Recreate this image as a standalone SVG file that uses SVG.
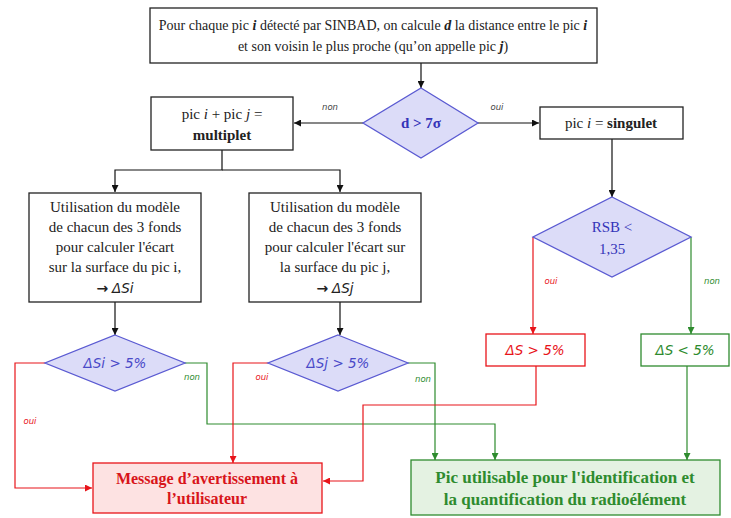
<svg xmlns="http://www.w3.org/2000/svg" width="731" height="518" viewBox="0 0 731 518">
<defs>
<marker id="ab" viewBox="0 0 10 10" refX="10" refY="5" markerWidth="7" markerHeight="7" orient="auto-start-reverse" markerUnits="userSpaceOnUse"><path d="M0,0 L10,5 L0,10 z" fill="#111"/></marker>
<marker id="ar" viewBox="0 0 10 10" refX="10" refY="5" markerWidth="7" markerHeight="7" orient="auto-start-reverse" markerUnits="userSpaceOnUse"><path d="M0,0 L10,5 L0,10 z" fill="#e8141a"/></marker>
<marker id="ag" viewBox="0 0 10 10" refX="10" refY="5" markerWidth="7" markerHeight="7" orient="auto-start-reverse" markerUnits="userSpaceOnUse"><path d="M0,0 L10,5 L0,10 z" fill="#2e8b2e"/></marker>
</defs>
<style>
.bx{fill:#fff;stroke:#222;stroke-width:1.3}
.dm{fill:#dcdcf8;stroke:#5a5ad2;stroke-width:1.3}
.t{font-family:"Liberation Serif",serif;font-size:15px;fill:#222;text-anchor:middle}
.tt{font-family:"Liberation Serif",serif;font-size:14px;fill:#222;text-anchor:middle}
.dt{font-family:"Liberation Serif",serif;font-size:15px;fill:#3434b8;text-anchor:middle}
.ds{font-family:"DejaVu Sans",sans-serif;font-style:italic;font-size:13.5px;fill:#4a4ac8;text-anchor:middle}
.lb{font-family:"DejaVu Sans",sans-serif;font-style:italic;font-size:8.5px;text-anchor:middle}
.ar{font-family:"DejaVu Sans",sans-serif;font-weight:bold;font-size:14px}
.k{stroke:#111;stroke-width:1.2;fill:none}
.r{stroke:#e8141a;stroke-width:1.2;fill:none}
.g{stroke:#2e8b2e;stroke-width:1.2;fill:none}
</style>
<g id="connectors">
<path class="k" d="M421,63 V88" marker-end="url(#ab)"/>
<path class="k" d="M363,123 H294" marker-end="url(#ab)"/>
<path class="k" d="M478,123 H539" marker-end="url(#ab)"/>
<path class="k" d="M612,139 V197" marker-end="url(#ab)"/>
<path class="k" d="M222,150 V170 H115 V192" marker-end="url(#ab)"/>
<path class="k" d="M222,170 H340 V192" marker-end="url(#ab)"/>
<path class="k" d="M115,302 V335" marker-end="url(#ab)"/>
<path class="k" d="M340,302 V335" marker-end="url(#ab)"/>
<path class="r" d="M533,237 V334" marker-end="url(#ar)"/>
<path class="g" d="M691,237 V334" marker-end="url(#ag)"/>
<path class="r" d="M45,363 H15 V488 H92" marker-end="url(#ar)"/>
<path class="g" d="M185,363 H207 V424 H495 V460" marker-end="url(#ag)"/>
<path class="r" d="M268,363 H233 V463" marker-end="url(#ar)"/>
<path class="g" d="M408,363 H435 V460" marker-end="url(#ag)"/>
<path class="r" d="M536,366 V405 H363 V481 H323" marker-end="url(#ar)"/>
<path class="g" d="M687,366 V460" marker-end="url(#ag)"/>
<text class="lb" x="330" y="110" fill="#444">non</text>
<text class="lb" x="497" y="110" fill="#444">oui</text>
<text class="lb" x="551" y="284" fill="#e8141a">oui</text>
<text class="lb" x="712" y="284" fill="#2e8b2e">non</text>
<text class="lb" x="30" y="424" fill="#e8141a">oui</text>
<text class="lb" x="192" y="380" fill="#2e8b2e">non</text>
<text class="lb" x="262" y="380" fill="#e8141a">oui</text>
<text class="lb" x="423" y="382" fill="#2e8b2e">non</text>
</g>
<g id="start">
<rect class="bx" x="150" y="8" width="447" height="55"/>
<text class="tt" x="373" y="30">Pour chaque pic <tspan font-style="italic" font-weight="bold">i</tspan> détecté par SINBAD, on calcule <tspan font-style="italic" font-weight="bold">d</tspan> la distance entre le pic <tspan font-style="italic" font-weight="bold">i</tspan></text>
<text class="tt" x="373" y="51">et son voisin le plus proche (qu’on appelle pic <tspan font-style="italic" font-weight="bold">j</tspan>)</text>
</g>
<g id="d7">
<path class="dm" d="M421,88 L478,123 L421,158 L363,123 Z"/>
<text class="dt" x="421" y="128" font-weight="bold">d &gt; 7σ</text>
</g>
<g id="multiplet">
<rect class="bx" x="151" y="97" width="142" height="53"/>
<text class="t" x="222" y="119">pic <tspan font-style="italic">i</tspan> + pic <tspan font-style="italic">j</tspan> =</text>
<text class="t" x="222" y="140" font-weight="bold">multiplet</text>
</g>
<g id="singulet">
<rect class="bx" x="540" y="107" width="143" height="32"/>
<text class="t" x="611" y="128">pic <tspan font-style="italic">i</tspan> = <tspan font-weight="bold">singulet</tspan></text>
</g>
<g id="rsb">
<path class="dm" d="M612,197 L691,237 L612,277 L533,237 Z"/>
<text class="dt" x="612" y="232">RSB &lt;</text>
<text class="dt" x="612" y="254">1,35</text>
</g>
<g id="util-i">
<rect class="bx" x="29" y="193" width="172" height="109"/>
<text class="t" x="115" y="212">Utilisation du modèle</text>
<text class="t" x="115" y="232">de chacun des 3 fonds</text>
<text class="t" x="115" y="252">pour calculer l'écart</text>
<text class="t" x="115" y="272">sur la surface du pic i,</text>
<text class="t" x="115" y="293"><tspan class="ar">→</tspan> <tspan font-family="DejaVu Sans,sans-serif" font-style="italic" font-size="13.5">ΔSi</tspan></text>
</g>
<g id="util-j">
<rect class="bx" x="249" y="193" width="172" height="109"/>
<text class="t" x="335" y="212">Utilisation du modèle</text>
<text class="t" x="335" y="232">de chacun des 3 fonds</text>
<text class="t" x="335" y="252">pour calculer l'écart sur</text>
<text class="t" x="335" y="272">la surface du pic j,</text>
<text class="t" x="335" y="293"><tspan class="ar">→</tspan> <tspan font-family="DejaVu Sans,sans-serif" font-style="italic" font-size="13.5">ΔSj</tspan></text>
</g>
<g id="dsi">
<path class="dm" d="M115,335 L185,363 L115,391 L45,363 Z"/>
<text class="ds" x="115" y="368">ΔSi &gt; 5%</text>
</g>
<g id="dsj">
<path class="dm" d="M338,335 L408,363 L338,391 L268,363 Z"/>
<text class="ds" x="338" y="368">ΔSj &gt; 5%</text>
</g>
<g id="ds-sup">
<rect x="486" y="334" width="99" height="32" fill="#fff" stroke="#e8141a" stroke-width="1.3"/>
<text class="ds" x="535" y="355" style="fill:#e8141a">ΔS &gt; 5%</text>
</g>
<g id="ds-inf">
<rect x="641" y="334" width="88" height="32" fill="#fff" stroke="#2e8b2e" stroke-width="1.3"/>
<text class="ds" x="685" y="355" style="fill:#2e8b2e">ΔS &lt; 5%</text>
</g>
<g id="message">
<rect x="93" y="463" width="229" height="50" fill="#fde2e2" stroke="#e8141a" stroke-width="1.3"/>
<text class="t" x="207" y="484" font-weight="bold" style="fill:#d8141a;font-size:16px">Message d’avertissement à</text>
<text class="t" x="207" y="504" font-weight="bold" style="fill:#d8141a;font-size:16px">l’utilisateur</text>
</g>
<g id="utilisable">
<rect x="411" y="460" width="309" height="55" fill="#e4f2e2" stroke="#2e8b2e" stroke-width="1.3"/>
<text class="t" x="565" y="483" font-weight="bold" style="fill:#2e8b2e;font-size:17px">Pic utilisable pour l'identification et</text>
<text class="t" x="565" y="505" font-weight="bold" style="fill:#2e8b2e;font-size:17px">la quantification du radioélément</text>
</g>
</svg>
